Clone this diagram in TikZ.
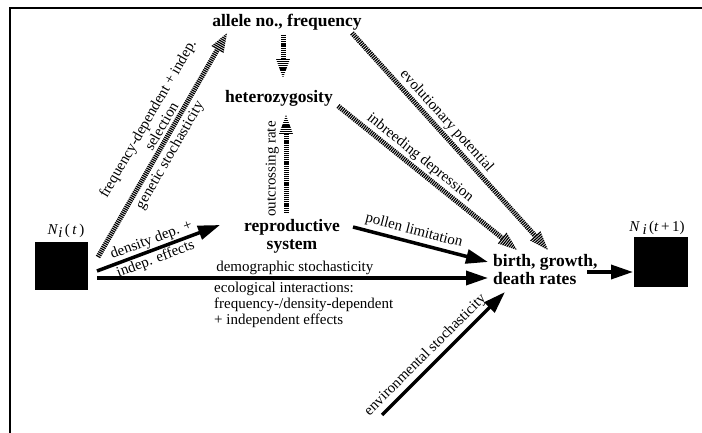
\documentclass[tikz,border=0pt]{standalone}
\usepackage{fontspec}
\setmainfont{Liberation Serif}
\usetikzlibrary{calc,arrows.meta}
\tikzset{
  bx/.style={font=\fontsize{17.5}{18}\selectfont\bfseries, inner sep=1pt},
  lb/.style={font=\fontsize{15}{16}\selectfont, inner sep=1pt},
  sarrow/.style={line width=3.5pt, -{Triangle[length=22pt,width=14pt]}},
  hshaft/.style={line width=5pt, dash pattern=on 1.2pt off 0.9pt},
  sq/.style={fill=black, minimum width=53pt, minimum height=48pt, inner sep=0pt},
}
\newcommand{\harrow}[3]{%
  \draw[hshaft] (#1) -- ($(#2)!19pt!(#1)$);
  \begin{scope}
    \coordinate (hb) at ($(#2)!19pt!(#1)$);
    \clip (#2) -- ($(hb)!7pt!90:(#2)$) -- ($(hb)!7pt!-90:(#2)$) -- cycle;
    \draw[hshaft, line width=16pt] (hb) -- (#2);
  \end{scope}
  \path (#1) -- (#2) #3;
}
\begin{document}
\begin{tikzpicture}[x=1pt,y=-1pt]
\useasboundingbox (0,0) rectangle (702,433);
% frame
\draw[line width=1.5pt] (10,433) -- (10,8) -- (702,8);
% nodes
\node[bx] (allele) at (287,22) {allele no., frequency};
\node[bx] (het) at (279,98) {heterozygosity};
\node[bx, align=center] (repro) at (292,236) {reproductive\\system};
\node[bx, align=left, anchor=west] (birth) at (492,270) {birth, growth,\\death rates};
\node[sq] (Nt) at (61.5,266) {};
\node[lb, anchor=base] (Ntl) at (66,234) {\textit{N}\raisebox{-0.45ex}{\textit{i}}\,(\,\textit{t}\,)};
\node[sq, minimum width=54pt, minimum height=50pt] (Nt1) at (661,262) {};
\node[lb, anchor=base] (Nt1l) at (657,231) {\textit{N}\,\raisebox{-0.45ex}{\textit{i}}\,(\textit{t}\,+\,1)};
\node[lb, align=left, anchor=north west] (eco) at (213,281) {ecological interactions:\\frequency-/density-dependent\\+ independent effects};
% connector end points
\coordinate (a1) at (98,257);  \coordinate (a2) at (227,33);
\coordinate (b1) at (283,35);  \coordinate (b2) at (283,78);
\coordinate (c1) at (286,213); \coordinate (c2) at (286,115);
\coordinate (d1) at (338,106); \coordinate (d2) at (517,250);
\coordinate (e1) at (352,33);  \coordinate (e2) at (548,250);
\coordinate (s1a) at (97,271); \coordinate (s1b) at (220,225);
\coordinate (s2a) at (97,278); \coordinate (s2b) at (488,278);
\coordinate (s3a) at (353,227); \coordinate (s3b) at (488,262);
\coordinate (s4a) at (382,415); \coordinate (s4b) at (505,292);
\coordinate (s5a) at (587,272); \coordinate (s5b) at (633,272);
% hatched arrows
\harrow{a1}{a2}{node[lb, sloped, pos=0.56, above=4pt, align=center] {frequency-dependent + indep.\\selection}
                node[lb, sloped, pos=0.48, below=4pt] {genetic stochasticity}}
\harrow{b1}{b2}{}
\harrow{c1}{c2}{node[lb, sloped, pos=0.45, above=6pt] {outcrossing rate}}
\harrow{d1}{d2}{node[lb, sloped, pos=0.42, above=3pt] {inbreeding depression}}
\harrow{e1}{e2}{node[lb, sloped, pos=0.44, above=3pt] {evolutionary potential}}
% solid arrows
\draw[sarrow] (s1a) -- (s1b)
  node[lb, sloped, pos=0.47, above=0pt] {density dep. +}
  node[lb, sloped, pos=0.45, below=0pt] {indep. effects};
\draw[sarrow] (s2a) -- (s2b) node[lb, pos=0.506, above=1pt] {demographic stochasticity};
\draw[sarrow] (s3a) -- (s3b) node[lb, sloped, pos=0.43, above=2pt] {pollen limitation};
\draw[sarrow] (s4a) -- (s4b) node[lb, sloped, pos=0.42, above=2pt] {environmental stochasticity};
\draw[sarrow] (s5a) -- (s5b);
\end{tikzpicture}
\end{document}
